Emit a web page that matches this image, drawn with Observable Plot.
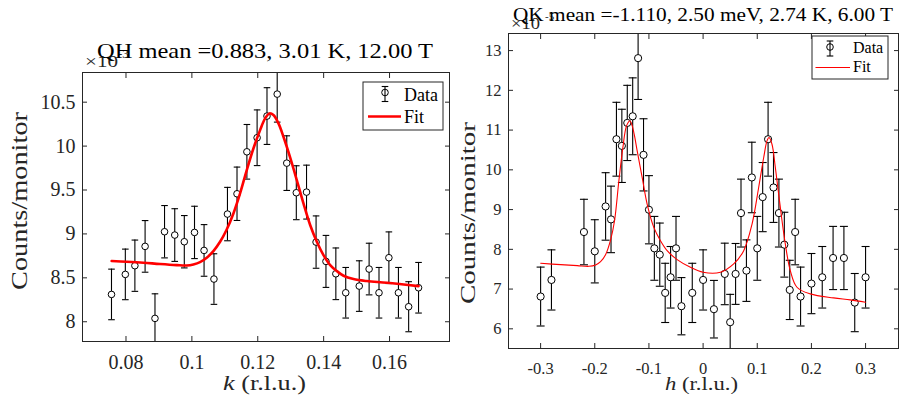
<!DOCTYPE html>
<html><head><meta charset="utf-8">
<script src="https://cdn.jsdelivr.net/npm/d3@7"></script>
<script src="https://cdn.jsdelivr.net/npm/@observablehq/plot@0.6"></script>
<style>
body{margin:0;background:#fff;}
#wrap{position:relative;width:901px;height:400px;overflow:hidden;background:#fff;}
#wrap svg{position:absolute;top:0;}
</style></head><body><div id="wrap"></div>
<script>
// ---------- Left panel: QH scan ----------
const kL = [0.0756,0.0798,0.0827,0.0858,0.0888,0.0917,0.0948,0.0977,0.1008,0.1037,0.1067,0.1108,0.1137,0.1167,0.1198,0.1228,0.1259,0.1288,0.1317,0.1348,0.1377,0.1407,0.1437,0.1467,0.1508,0.1538,0.1568,0.1598,0.1627,0.1658,0.1688];
const countsL = [8.311,8.539,8.638,8.858,8.038,9.025,8.987,8.911,9.017,8.812,8.486,9.226,9.457,9.935,10.095,10.342,10.592,9.806,9.469,9.476,8.907,8.687,8.546,8.330,8.406,8.600,8.330,8.729,8.330,8.171,8.387];
const errL = [0.288,0.288,0.292,0.294,0.28,0.298,0.300,0.298,0.298,0.294,0.288,0.304,0.304,0.311,0.317,0.323,0.319,0.311,0.307,0.307,0.298,0.296,0.294,0.288,0.288,0.294,0.288,0.294,0.288,0.285,0.288];
const fitKL = [0.07565,0.0802,0.08527,0.09033,0.09539,0.09843,0.10046,0.10248,0.10451,0.10653,0.10856,0.11058,0.11261,0.11463,0.11666,0.11868,0.12071,0.12223,0.12354,0.12476,0.12628,0.1278,0.12982,0.13185,0.13387,0.1359,0.13792,0.13995,0.14198,0.144,0.14603,0.14906,0.15311,0.15919,0.16881];
const fitL = [8.691,8.683,8.672,8.657,8.645,8.641,8.653,8.679,8.729,8.805,8.911,9.051,9.233,9.461,9.727,9.973,10.182,10.315,10.372,10.353,10.258,10.106,9.871,9.613,9.347,9.101,8.911,8.759,8.645,8.577,8.524,8.486,8.463,8.444,8.406];
const xTicksL = [0.08,0.1,0.12,0.14,0.16];
const xTickLabelsL = ["0.08","0.1","0.12","0.14","0.16"];
const yTicksL = [8,8.5,9,9.5,10,10.5];
const yTickLabelsL = ["8","8.5","9","9.5","10","10.5"];
const titleL = "QH mean =0.883, 3.01 K, 12.00 T";
const expL = "-3";

// ---------- Right panel: QK scan ----------
const hR = [-0.30,-0.28,-0.22,-0.20,-0.18,-0.17,-0.16,-0.15,-0.14,-0.13,-0.12,-0.11,-0.10,-0.09,-0.08,-0.07,-0.06,-0.05,-0.04,-0.02,0.00,0.02,0.04,0.05,0.06,0.07,0.08,0.09,0.10,0.11,0.12,0.13,0.14,0.15,0.16,0.17,0.18,0.20,0.22,0.24,0.26,0.28,0.30];
const countsR = [6.812,7.230,8.435,7.950,9.079,8.753,10.770,10.603,11.180,11.347,12.81,10.377,8.996,8.025,7.866,6.904,7.297,8.025,6.569,6.904,7.230,6.494,7.381,6.167,7.381,8.912,7.464,9.808,8.025,9.314,10.770,9.556,8.912,8.117,6.979,8.435,6.812,7.138,7.297,7.782,7.782,6.66,7.297];
const errR = [0.741,0.757,0.824,0.795,0.849,0.837,0.929,0.921,0.946,0.967,1.04,0.908,0.858,0.803,0.795,0.745,0.774,0.803,0.720,0.745,0.757,0.724,0.774,0.70,0.766,0.854,0.774,0.887,0.803,0.870,0.929,0.879,0.854,0.816,0.745,0.824,0.741,0.757,0.774,0.795,0.795,0.732,0.774];
const fitHR = [-0.2999,-0.2631,-0.2323,-0.2108,-0.1985,-0.1893,-0.1801,-0.1709,-0.1635,-0.1555,-0.1481,-0.1414,-0.1352,-0.1309,-0.1266,-0.1217,-0.1125,-0.1033,-0.0910,-0.0787,-0.0664,-0.0479,-0.0234,0,0.0320,0.0565,0.0750,0.0904,0.1026,0.1119,0.1180,0.1217,0.1272,0.1334,0.1426,0.1518,0.1610,0.1733,0.1979,0.2409,0.2717,0.2999];
const fitR = [7.649,7.615,7.590,7.573,7.607,7.690,7.866,8.234,8.720,9.724,10.561,11.105,11.230,11.105,10.854,10.477,9.808,9.138,8.552,8.218,7.967,7.741,7.548,7.423,7.423,7.632,7.967,8.636,9.556,10.310,10.728,10.812,10.644,10.059,9.054,8.134,7.464,7.046,6.879,6.778,6.728,6.669];
const xTicksR = [-0.3,-0.2,-0.1,0,0.1,0.2,0.3];
const xTickLabelsR = ["-0.3","-0.2","-0.1","0","0.1","0.2","0.3"];
const yTicksR = [6,7,8,9,10,11,12,13];
const yTickLabelsR = ["6","7","8","9","10","11","12","13"];
const titleR = "QK mean =-1.110, 2.50 meV, 2.74 K, 6.00 T";
const expR = "-5";

const yLabel = "Counts/monitor";
const legendLabels = ["Data", "Fit"];

const FONT = "Liberation Serif, Times New Roman, serif";
const AX = "#262626";

const capSymbol = {draw(ctx, size){ const w = Math.sqrt(size/Math.PI); ctx.moveTo(-w,0); ctx.lineTo(w,0); }};

function panel(o) {
  const data = o.xs.map((x,i)=>({x, y:o.ys[i], e:o.es[i]}));
  const fit = o.fx.map((x,i)=>({x, y:o.fy[i]}));
  const xl = new Map(o.xTicks.map((t,i)=>[t,o.xLabels[i]]));
  const yl = new Map(o.yTicks.map((t,i)=>[t,o.yLabels[i]]));
  return Plot.plot({
    width: o.width, height: 400,
    marginLeft: o.ml, marginRight: o.mr, marginTop: o.mt, marginBottom: o.mb,
    x: {domain: o.xDomain}, y: {domain: o.yDomain},
    style: {fontFamily: FONT, fontSize: o.tickFs + "px", color: AX, background: "transparent", overflow: "visible"},
    marks: [
      Plot.ruleX(data, {x:"x", y1:d=>d.y-d.e, y2:d=>d.y+d.e, stroke:"#000", strokeWidth:1.1, clip:true}),
      Plot.dot(data, {x:"x", y:d=>d.y-d.e, symbol:capSymbol, r:o.capR, stroke:"#000", strokeWidth:1.1, clip:true}),
      Plot.dot(data, {x:"x", y:d=>d.y+d.e, symbol:capSymbol, r:o.capR, stroke:"#000", strokeWidth:1.1, clip:true}),
      Plot.dot(data, {x:"x", y:"y", r:o.r, stroke:"#000", fill:"white", strokeWidth:1}),
      Plot.line(fit, {x:"x", y:"y", stroke:"#ff0000", strokeWidth:o.fitW, curve:"catmull-rom"}),
      Plot.frame({stroke: AX, strokeWidth: 1}),
      Plot.axisX(o.xTicks, {anchor:"bottom", tickSize:-5, tickPadding:o.xPad, tickFormat:d=>xl.get(d), fontSize:o.tickFs, label:null, stroke:AX}),
      Plot.axisX(o.xTicks, {anchor:"top", tickSize:-5, tickFormat:()=>"", label:null, stroke:AX}),
      Plot.axisY(o.yTicks, {anchor:"left", tickSize:-5, tickPadding:12, tickFormat:d=>yl.get(d), fontSize:o.tickFs, label:null, stroke:AX}),
      Plot.axisY(o.yTicks, {anchor:"right", tickSize:-5, tickFormat:()=>"", label:null, stroke:AX})
    ]
  });
}

function annotate(svg, a) {
  const s = d3.select(svg);
  const g = s.append("g").attr("font-family", FONT).attr("text-anchor", "start");
  // multiplier
  g.append("text").attr("x", a.mulX).attr("y", a.mulY).attr("font-size", a.mulFs).attr("fill", AX)
    .attr("textLength", a.mulW).attr("lengthAdjust","spacingAndGlyphs").text("×10");
  g.append("text").attr("x", a.expX).attr("y", a.expY).attr("font-size", a.expFs).attr("fill", AX).text(a.exp);
  // title
  g.append("text").attr("x", a.titleX).attr("y", a.titleY).attr("font-size", a.titleFs).attr("fill", "#000")
    .attr("text-anchor","middle").attr("textLength", a.titleW).attr("lengthAdjust","spacingAndGlyphs").text(a.title);
  // y label
  g.append("text").attr("transform", `translate(${a.ylX},${a.ylY}) rotate(-90)`).attr("font-size", a.ylFs).attr("fill", AX)
    .attr("text-anchor","middle").attr("textLength", a.ylW).attr("lengthAdjust","spacingAndGlyphs").text(yLabel);
  // x label
  const xt = g.append("text").attr("x", a.xlX).attr("y", a.xlY).attr("font-size", a.xlFs).attr("fill", AX)
    .attr("text-anchor","middle").attr("textLength", a.xlW).attr("lengthAdjust","spacingAndGlyphs");
  xt.append("tspan").attr("font-style","italic").text(a.xVar);
  xt.append("tspan").text(" (r.l.u.)");
  // legend
  const L = a.leg;
  const lg = s.append("g").attr("font-family", FONT).attr("text-anchor", "start");
  lg.append("rect").attr("x", L.x).attr("y", L.y).attr("width", L.w).attr("height", L.h)
    .attr("fill","white").attr("stroke", AX).attr("stroke-width", 1);
  const cx = L.symX, c = L.dataCy, hb = L.bar;
  lg.append("line").attr("x1",cx).attr("x2",cx).attr("y1",c-hb).attr("y2",c+hb).attr("stroke","#000").attr("stroke-width",1.1);
  lg.append("line").attr("x1",cx-L.cap).attr("x2",cx+L.cap).attr("y1",c-hb).attr("y2",c-hb).attr("stroke","#000").attr("stroke-width",1.1);
  lg.append("line").attr("x1",cx-L.cap).attr("x2",cx+L.cap).attr("y1",c+hb).attr("y2",c+hb).attr("stroke","#000").attr("stroke-width",1.1);
  lg.append("circle").attr("cx",cx).attr("cy",c-1.5).attr("r",L.r).attr("fill","none").attr("stroke","#000");
  lg.append("text").attr("x", L.textX).attr("y", L.dataY).attr("font-size", L.fs).attr("fill","#000").text(legendLabels[0]);
  lg.append("line").attr("x1",L.lineX1).attr("x2",L.lineX2).attr("y1",L.fitLineY).attr("y2",L.fitLineY)
    .attr("stroke","#ff0000").attr("stroke-width",L.fitW);
  lg.append("text").attr("x", L.textX).attr("y", L.fitY).attr("font-size", L.fs).attr("fill","#000").text(legendLabels[1]);
}

const wrap = document.getElementById("wrap");

const left = panel({width:455, ml:82, mr:6, mt:72, mb:59,
  xDomain:[0.0668,0.1782], yDomain:[7.775,10.838],
  xTicks:xTicksL, xLabels:xTickLabelsL, yTicks:yTicksL, yLabels:yTickLabelsL,
  xs:kL, ys:countsL, es:errL, fx:fitKL, fy:fitL, fitW:2.6, r:3.3, capR:3.3, tickFs:20, xPad:18});
left.style.left = "0px";
wrap.appendChild(left);
annotate(left, {mulX:85, mulY:67, mulFs:17, mulW:33, exp:expL, expX:118, expY:58, expFs:13,
  title:titleL, titleX:265, titleY:58, titleFs:21, titleW:336,
  ylX:27, ylY:201, ylFs:23, ylW:178, xVar:"k", xlX:264.5, xlY:390, xlFs:21, xlW:83,
  leg:{x:363, y:82, w:80, h:48, symX:385, dataCy:94, bar:7.5, cap:3.3, r:3.3, textX:404, dataY:101, fitY:123,
       fs:18, lineX1:368, lineX2:401, fitLineY:116.5, fitW:2.6}});

const right = panel({width:446, ml:53, mr:3, mt:33, mb:52,
  xDomain:[-0.3593,0.3608], yDomain:[5.505,13.43],
  xTicks:xTicksR, xLabels:xTickLabelsR, yTicks:yTicksR, yLabels:yTickLabelsR,
  xs:hR, ys:countsR, es:errR, fx:fitHR, fy:fitR, fitW:1.1, r:3.6, capR:4, tickFs:16.5, xPad:19});
right.style.left = "455px";
wrap.appendChild(right);
annotate(right, {mulX:56, mulY:28.5, mulFs:16, mulW:29, exp:expR, expX:90, expY:20, expFs:11,
  title:titleR, titleX:248, titleY:20.7, titleFs:19, titleW:380,
  ylX:19.5, ylY:213, ylFs:22, ylW:182, xVar:"h", xlX:246.5, xlY:390, xlFs:18.5, xlW:73,
  leg:{x:357, y:36, w:76, h:43, symX:375, dataCy:48.5, bar:7.5, cap:3.3, r:3.3, textX:398, dataY:53, fitY:72,
       fs:16, lineX1:360.5, lineX2:395, fitLineY:67.5, fitW:1.1}});
</script>
</body></html>
